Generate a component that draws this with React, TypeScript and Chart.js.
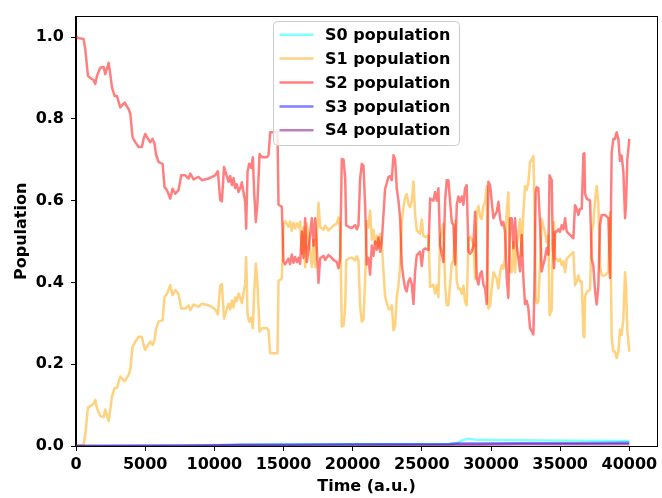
import React, { useEffect, useRef } from "react";
import { Chart, registerables } from "chart.js";

Chart.register(...registerables);

const FONT = '"DejaVu Sans", "Liberation Sans", sans-serif';

// Sample times (a.u.) for S1 / S2
const timeGrid = [
  0, 70, 550, 670, 790, 865, 1030, 1270, 1395, 1515,
  1755, 2000, 2115, 2360, 2480, 2600, 2790, 2960, 3200, 3515,
  3800, 3925, 4090, 4285, 4525, 4765, 4885, 5005, 5200, 5370,
  5535, 5680, 5775, 5970, 6260, 6400, 6570, 6815, 6980, 7175,
  7415, 7605, 7895, 8135, 8260, 8500, 8860, 9100, 9580, 9825,
  10065, 10255, 10425, 10545, 10700, 11030, 11150, 11270, 11390, 11510,
  11630, 11750, 11870, 11990, 12110, 12230, 12300, 12400, 12520, 12665,
  12785, 12880, 13000, 13120, 13270, 13435, 13800, 13915, 14040, 14565,
  14640, 14880, 15000, 15120, 15360, 15480, 15600, 15720, 15840, 15965,
  16085, 16205, 16325, 16445, 16565, 16685, 16810, 16930, 17050, 17170,
  17290, 17410, 17530, 17650, 17890, 18010, 18250, 18490, 18610, 18850,
  18975, 19095, 19215, 19340, 19460, 19530, 19700, 19940, 20180, 20300,
  20420, 20540, 20660, 20780, 20900, 21020, 21140, 21260, 21385, 21505,
  21625, 21745, 21865, 21985, 22105, 22225, 22345, 22590, 22710, 22830,
  22950, 23070, 23190, 23310, 23430, 23550, 23670, 23790, 23910, 24030,
  24150, 24275, 24395, 24515, 24635, 24875, 24995, 25115, 25235, 25480,
  25600, 25840, 25960, 26080, 26200, 26320, 26440, 26560, 26680, 26800,
  26920, 27045, 27165, 27285, 27405, 27525, 27645, 27765, 27885, 28005,
  28125, 28245, 28370, 28490, 28610, 28730, 28850, 28970, 29090, 29210,
  29330, 29450, 29570, 29690, 29810, 29935, 30055, 30175, 30295, 30415,
  30535, 30655, 30775, 30895, 31015, 31135, 31255, 31380, 31500, 31620,
  31740, 31860, 31980, 32100, 32220, 32340, 32460, 32580, 32700, 32820,
  32945, 33065, 33135, 33230, 33305, 33425, 33545, 33665, 33785, 33905,
  34025, 34150, 34230, 34390, 34465, 34560, 34630, 34750, 34870, 34990,
  35115, 35235, 35355, 35475, 35715, 35955, 36075, 36195, 36315, 36435,
  36560, 36680, 36750, 36800, 36920, 37160, 37280, 37400, 37520, 37640,
  37760, 37880, 38000, 38245, 38485, 38605, 38725, 38845, 38965, 39085,
  39205, 39325, 39445, 39570, 39690, 39760, 39855, 40000,
];

const s2Population = [
  1.0, 0.998, 0.995, 0.97, 0.93, 0.905, 0.9, 0.895, 0.885, 0.905,
  0.925, 0.927, 0.909, 0.937, 0.909, 0.877, 0.856, 0.856, 0.828, 0.84,
  0.824, 0.812, 0.755, 0.743, 0.731, 0.731, 0.751, 0.763, 0.751, 0.743,
  0.751, 0.739, 0.714, 0.694, 0.69, 0.633, 0.626, 0.605, 0.629, 0.617,
  0.626, 0.662, 0.662, 0.654, 0.666, 0.652, 0.658, 0.65, 0.654, 0.658,
  0.662, 0.672, 0.602, 0.598, 0.682, 0.646, 0.66, 0.638, 0.655, 0.631,
  0.64, 0.621, 0.63, 0.645, 0.62, 0.597, 0.532, 0.67, 0.69, 0.68,
  0.706, 0.62, 0.548, 0.597, 0.714, 0.706, 0.706, 0.711, 0.767, 0.767,
  0.59, 0.585, 0.451, 0.444, 0.458, 0.445, 0.468, 0.448, 0.462, 0.45,
  0.46, 0.445, 0.524, 0.46, 0.557, 0.45, 0.48, 0.52, 0.557, 0.49,
  0.557, 0.48, 0.399, 0.459, 0.465, 0.455, 0.467, 0.46, 0.455, 0.45,
  0.435, 0.46, 0.702, 0.7, 0.654, 0.54, 0.536, 0.533, 0.54, 0.53,
  0.54, 0.654, 0.69, 0.685, 0.59, 0.444, 0.46, 0.419, 0.49, 0.465,
  0.5, 0.48, 0.51, 0.475, 0.5, 0.565, 0.629, 0.658, 0.66, 0.65,
  0.711, 0.7, 0.629, 0.6, 0.557, 0.444, 0.411, 0.386, 0.378, 0.402,
  0.41, 0.395, 0.347, 0.427, 0.467, 0.475, 0.44, 0.48, 0.483, 0.48,
  0.605, 0.6, 0.621, 0.6, 0.63, 0.49, 0.47, 0.45, 0.597, 0.65,
  0.65, 0.597, 0.548, 0.54, 0.444, 0.59, 0.61, 0.597, 0.61, 0.59,
  0.63, 0.638, 0.476, 0.47, 0.476, 0.49, 0.573, 0.411, 0.395, 0.42,
  0.427, 0.395, 0.386, 0.347, 0.646, 0.638, 0.597, 0.557, 0.565, 0.573,
  0.597, 0.557, 0.54, 0.548, 0.524, 0.411, 0.362, 0.557, 0.557, 0.484,
  0.557, 0.49, 0.46, 0.427, 0.516, 0.411, 0.347, 0.355, 0.338, 0.289,
  0.281, 0.273, 0.38, 0.621, 0.633, 0.63, 0.54, 0.427, 0.444, 0.46,
  0.484, 0.468, 0.662, 0.65, 0.49, 0.435, 0.524, 0.524, 0.53, 0.524,
  0.54, 0.53, 0.557, 0.524, 0.516, 0.508, 0.589, 0.58, 0.565, 0.58,
  0.58, 0.714, 0.716, 0.617, 0.605, 0.6, 0.459, 0.44, 0.38, 0.346,
  0.39, 0.54, 0.565, 0.565, 0.557, 0.411, 0.718, 0.751, 0.751, 0.767,
  0.751, 0.697, 0.71, 0.67, 0.557, 0.59, 0.7, 0.751,
];

const s1Population = [
  0.0, 0.0, 0.003, 0.028, 0.068, 0.093, 0.098, 0.103, 0.113, 0.093,
  0.073, 0.071, 0.089, 0.061, 0.089, 0.121, 0.142, 0.142, 0.17, 0.158,
  0.174, 0.186, 0.243, 0.255, 0.267, 0.267, 0.247, 0.235, 0.247, 0.255,
  0.247, 0.259, 0.284, 0.304, 0.308, 0.365, 0.372, 0.393, 0.369, 0.381,
  0.372, 0.336, 0.336, 0.344, 0.332, 0.346, 0.34, 0.348, 0.344, 0.34,
  0.334, 0.322, 0.392, 0.396, 0.312, 0.348, 0.334, 0.356, 0.339, 0.363,
  0.354, 0.373, 0.364, 0.349, 0.374, 0.397, 0.462, 0.324, 0.304, 0.314,
  0.288, 0.374, 0.446, 0.397, 0.28, 0.288, 0.288, 0.283, 0.227, 0.227,
  0.404, 0.409, 0.543, 0.55, 0.536, 0.549, 0.526, 0.546, 0.532, 0.544,
  0.534, 0.549, 0.47, 0.534, 0.437, 0.544, 0.514, 0.474, 0.437, 0.504,
  0.437, 0.514, 0.595, 0.535, 0.529, 0.539, 0.527, 0.534, 0.539, 0.544,
  0.559, 0.534, 0.292, 0.294, 0.34, 0.454, 0.458, 0.461, 0.454, 0.464,
  0.454, 0.34, 0.304, 0.309, 0.404, 0.55, 0.534, 0.575, 0.504, 0.529,
  0.494, 0.514, 0.484, 0.519, 0.494, 0.429, 0.365, 0.336, 0.334, 0.344,
  0.283, 0.294, 0.365, 0.394, 0.437, 0.55, 0.583, 0.608, 0.616, 0.592,
  0.584, 0.599, 0.647, 0.567, 0.527, 0.519, 0.554, 0.514, 0.511, 0.514,
  0.389, 0.394, 0.373, 0.394, 0.364, 0.504, 0.524, 0.544, 0.397, 0.344,
  0.344, 0.397, 0.446, 0.454, 0.55, 0.404, 0.384, 0.385, 0.372, 0.392,
  0.352, 0.344, 0.506, 0.512, 0.506, 0.492, 0.409, 0.571, 0.587, 0.562,
  0.555, 0.587, 0.596, 0.635, 0.336, 0.344, 0.385, 0.425, 0.417, 0.409,
  0.385, 0.425, 0.442, 0.434, 0.458, 0.571, 0.62, 0.425, 0.425, 0.498,
  0.425, 0.492, 0.522, 0.555, 0.466, 0.571, 0.635, 0.627, 0.644, 0.693,
  0.701, 0.709, 0.602, 0.361, 0.349, 0.352, 0.442, 0.555, 0.538, 0.522,
  0.498, 0.514, 0.32, 0.332, 0.492, 0.547, 0.458, 0.458, 0.452, 0.458,
  0.442, 0.452, 0.425, 0.458, 0.466, 0.474, 0.393, 0.402, 0.417, 0.402,
  0.402, 0.268, 0.266, 0.365, 0.377, 0.382, 0.523, 0.542, 0.602, 0.636,
  0.592, 0.442, 0.417, 0.417, 0.425, 0.571, 0.264, 0.231, 0.231, 0.215,
  0.231, 0.285, 0.272, 0.312, 0.425, 0.392, 0.282, 0.231,
];

// Sample times for the small populations
const timeSmall = [0, 4000, 8000, 10000, 12000, 15000, 20000, 24000, 27000, 27600, 28000, 28400, 29000, 32000, 36000, 40000];
const s0Population = [0, 0, 0.0005, 0.001, 0.003, 0.004, 0.004, 0.004, 0.005, 0.008, 0.015, 0.018, 0.015, 0.014, 0.013, 0.012];
const s3Population = [0, 0.0005, 0.001, 0.002, 0.003, 0.003, 0.004, 0.004, 0.005, 0.006, 0.006, 0.006, 0.006, 0.007, 0.007, 0.008];
const s4Population = [0, 0, 0, 0.0005, 0.001, 0.001, 0.001, 0.002, 0.002, 0.003, 0.003, 0.003, 0.003, 0.004, 0.004, 0.004];

const seriesLabels = ["S0 population", "S1 population", "S2 population", "S3 population", "S4 population"];
const seriesColors = [
  "rgba(0,255,255,0.5)",
  "rgba(255,165,0,0.5)",
  "rgba(255,0,0,0.5)",
  "rgba(0,0,255,0.5)",
  "rgba(128,0,128,0.5)",
];

const xTicks = [0, 5000, 10000, 15000, 20000, 25000, 30000, 35000, 40000];
const yTicks = [0, 0.2, 0.4, 0.6, 0.8, 1.0];
const xTitle = "Time (a.u.)";
const yTitle = "Population";

const LINE_W = 2.5;

const overlayPlugin = {
  id: "overlay",
  afterDatasetsDraw(chart: any) {
    const { ctx, chartArea } = chart;
    const { left, right, top, bottom } = chartArea;
    ctx.save();
    ctx.strokeStyle = "#000";
    ctx.lineWidth = 1;
    ctx.strokeRect(Math.round(left) - 0.5, Math.round(top) - 0.5, Math.round(right - left) + 1, Math.round(bottom - top) + 1);
    ctx.restore();
  },
  afterDraw(chart: any) {
    const { ctx, chartArea } = chart;
    const { left, right, top, bottom } = chartArea;
    ctx.save();
    ctx.font = `bold 16px ${FONT}`;
    ctx.fillStyle = "#000";
    ctx.textAlign = "center";
    ctx.textBaseline = "middle";
    ctx.fillText(xTitle, (left + right) / 2, 487);
    ctx.save();
    ctx.translate(21.5, (top + bottom) / 2);
    ctx.rotate(-Math.PI / 2);
    ctx.fillText(yTitle, 0, 0);
    ctx.restore();

    // legend
    const bx = 273.5, by = 21.5, bw = 186, bh = 124;
    ctx.beginPath();
    (ctx as any).roundRect(bx, by, bw, bh, 4);
    ctx.fillStyle = "rgba(255,255,255,0.8)";
    ctx.fill();
    ctx.strokeStyle = "#cccccc";
    ctx.lineWidth = 1;
    ctx.stroke();
    ctx.textAlign = "left";
    ctx.textBaseline = "middle";
    for (let i = 0; i < seriesLabels.length; i++) {
      const ry = 34.7 + 23.9 * i;
      ctx.beginPath();
      ctx.moveTo(279.5, ry);
      ctx.lineTo(313.5, ry);
      ctx.strokeStyle = seriesColors[i];
      ctx.lineWidth = LINE_W;
      ctx.stroke();
      ctx.fillStyle = "#000";
      ctx.fillText(seriesLabels[i], 325, ry + 1);
    }
    ctx.restore();
  },
};

export default function App() {
  const canvasRef = useRef<HTMLCanvasElement | null>(null);

  useEffect(() => {
    const canvas = canvasRef.current;
    if (!canvas) return;
    const seriesData = [
      timeSmall.map((t, i) => ({ x: t, y: s0Population[i] })),
      timeGrid.map((t, i) => ({ x: t, y: s1Population[i] })),
      timeGrid.map((t, i) => ({ x: t, y: s2Population[i] })),
      timeSmall.map((t, i) => ({ x: t, y: s3Population[i] })),
      timeSmall.map((t, i) => ({ x: t, y: s4Population[i] })),
    ];
    const tickFont = { family: FONT, size: 16, weight: "bold" as const };
    const chart = new Chart(canvas, {
      type: "line",
      data: {
        datasets: seriesLabels.map((label, i) => ({
          label,
          data: seriesData[i],
          borderColor: seriesColors[i],
          backgroundColor: seriesColors[i],
          borderWidth: LINE_W,
          borderJoinStyle: "round" as const,
          borderCapStyle: "butt" as const,
          pointRadius: 0,
          tension: 0,
          fill: false,
          order: seriesLabels.length - 1 - i,
        })),
      },
      options: {
        animation: false,
        responsive: false,
        devicePixelRatio: 1,
        layout: { padding: { top: 14, right: 5, left: 0, bottom: 0 } },
        plugins: {
          legend: { display: false },
          tooltip: { enabled: false },
          title: { display: false },
        },
        scales: {
          x: {
            type: "linear",
            min: 0,
            max: 42000,
            afterBuildTicks: (scale: any) => {
              scale.ticks = xTicks.map((v) => ({ value: v }));
            },
            afterFit: (scale: any) => {
              scale.height = 52;
            },
            grid: {
              display: true,
              drawOnChartArea: false,
              drawTicks: true,
              tickLength: 5,
              color: "#000",
            },
            border: { display: true, color: "#000", width: 1 },
            ticks: {
              font: tickFont,
              color: "#000",
              padding: 4,
              maxRotation: 0,
              autoSkip: false,
              callback: (v: any) => String(v),
            },
          },
          y: {
            type: "linear",
            min: 0,
            max: 1.05,
            afterBuildTicks: (scale: any) => {
              scale.ticks = yTicks.map((v) => ({ value: v }));
            },
            afterFit: (scale: any) => {
              scale.width = 76;
            },
            grid: {
              display: true,
              drawOnChartArea: false,
              drawTicks: true,
              tickLength: 5,
              color: "#000",
            },
            border: { display: true, color: "#000", width: 1 },
            ticks: {
              font: tickFont,
              color: "#000",
              padding: 7,
              autoSkip: false,
              callback: (v: any) => Number(v).toFixed(1),
            },
          },
        },
      },
      plugins: [overlayPlugin],
    });
    return () => chart.destroy();
  }, []);

  return (
    <div style={{ position: "absolute", left: 0, top: 0, width: 662, height: 498, background: "#fff" }}>
      <canvas ref={canvasRef} width={662} height={498} style={{ display: "block", width: 662, height: 498 }} />
    </div>
  );
}
